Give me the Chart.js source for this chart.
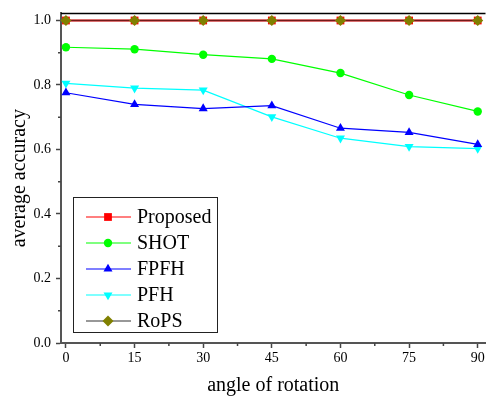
<!DOCTYPE html>
<html>
<head>
<meta charset="utf-8">
<script src="https://cdn.jsdelivr.net/npm/chart.js@4/dist/chart.umd.min.js"></script>
<style>
  html, body { margin: 0; padding: 0; background: #fff; overflow: hidden; }
  #wrap { width: 491px; height: 396px; position: relative; }
</style>
</head>
<body>
<div id="wrap"><canvas id="accChart"></canvas></div>
<script>
// angles (degrees)
const angles = [0, 15, 30, 45, 60, 75, 90];

// average accuracy per descriptor
const proposed = [1.0, 1.0, 1.0, 1.0, 1.0, 1.0, 1.0];
const shot = [0.917, 0.911, 0.894, 0.881, 0.837, 0.769, 0.718];
const fpfh = [0.776, 0.740, 0.727, 0.736, 0.666, 0.653, 0.616];
const pfh = [0.805, 0.790, 0.784, 0.701, 0.635, 0.609, 0.603];
const rops = [1.0, 1.0, 1.0, 1.0, 1.0, 1.0, 1.0];

const xTicks = [0, 15, 30, 45, 60, 75, 90];
const yTicks = [0.0, 0.2, 0.4, 0.6, 0.8, 1.0];
const xMinor = [7.5, 22.5, 37.5, 52.5, 67.5, 82.5];
const yMinor = [0.1, 0.3, 0.5, 0.7, 0.9];

const serif = "'Liberation Serif', 'Times New Roman', serif";

function pts(vals) {
    return vals.map((v, i) => ({ x: angles[i], y: v }));
}

const datasets = [
    { label: "Proposed", data: pts(proposed), borderColor: "#ff0000", backgroundColor: "#ff0000",
      pointStyle: "rect", pointRadius: 5.5, borderWidth: 2, order: 2 },
    { label: "SHOT", data: pts(shot), borderColor: "#00ff00", backgroundColor: "#00ff00",
      pointStyle: "circle", pointRadius: 4.2, borderWidth: 1.2, order: 1 },
    { label: "FPFH", data: pts(fpfh), borderColor: "#0000ff", backgroundColor: "#0000ff",
      pointStyle: "triangle", pointRadius: 5.2, borderWidth: 1.2, order: 1 },
    { label: "PFH", data: pts(pfh), borderColor: "#00ffff", backgroundColor: "#00ffff",
      pointStyle: "triangle", pointRotation: 180, pointRadius: 5.2, borderWidth: 1.2, order: 1 },
    { label: "RoPS", data: pts(rops), borderColor: "rgba(40,40,40,0.65)", backgroundColor: "#808000",
      pointStyle: "rectRot", pointRadius: 5.5, borderWidth: 1.5, order: 0 }
];
datasets.forEach(d => {
    d.pointBorderWidth = 0;
    d.pointBackgroundColor = d.backgroundColor;
    d.tension = 0;
});

// minor ticks, top frame line and the boxed legend
const extras = {
    id: "extras",
    afterDraw(chart) {
        const ctx = chart.ctx;
        const xs = chart.scales.x, ys = chart.scales.y;
        const a = chart.chartArea;
        ctx.save();
        ctx.strokeStyle = "#444";
        ctx.lineWidth = 1.5;
        ctx.beginPath();
        xMinor.forEach(v => {
            const px = xs.getPixelForValue(v);
            ctx.moveTo(px, a.bottom);
            ctx.lineTo(px, a.bottom + 3);
        });
        yMinor.forEach(v => {
            const py = ys.getPixelForValue(v);
            ctx.moveTo(a.left, py);
            ctx.lineTo(a.left - 3, py);
        });
        ctx.stroke();

        // top frame
        ctx.strokeStyle = "#000";
        ctx.lineWidth = 1.5;
        ctx.beginPath();
        ctx.moveTo(a.left, a.top);
        ctx.lineTo(a.right, a.top);
        ctx.stroke();

        // legend
        const lx = 73.5, ly = 197.5, lw = 144, lh = 135;
        ctx.fillStyle = "#fff";
        ctx.fillRect(lx, ly, lw, lh);
        ctx.strokeStyle = "#222";
        ctx.lineWidth = 1;
        ctx.strokeRect(lx, ly, lw, lh);
        ctx.font = "20px " + serif;
        ctx.textBaseline = "middle";
        ctx.textAlign = "left";
        const legendLine = ["#ff0000", "#00ff00", "#0000ff", "#00ffff", "#333333"];
        datasets.forEach((d, i) => {
            const cy = 217 + i * 26;
            ctx.strokeStyle = legendLine[i];
            ctx.lineWidth = 1.2;
            ctx.beginPath();
            ctx.moveTo(86, cy);
            ctx.lineTo(131, cy);
            ctx.stroke();
            ctx.fillStyle = d.backgroundColor;
            Chart.helpers.drawPoint(ctx, {
                pointStyle: d.pointStyle,
                rotation: d.pointRotation || 0,
                radius: d.pointRadius,
                borderWidth: 0
            }, 108, cy);
            ctx.fillStyle = "#000";
            ctx.fillText(d.label, 137, cy + 1);
        });
        ctx.restore();
    }
};

new Chart(document.getElementById("accChart"), {
    type: "line",
    data: { datasets: datasets },
    options: {
        responsive: true,
        maintainAspectRatio: false,
        animation: false,
        clip: false,
        layout: { padding: { top: 13, right: 0, left: 0, bottom: 0 } },
        plugins: { legend: { display: false }, tooltip: { enabled: false } },
        scales: {
            x: {
                type: "linear",
                min: -1.08,
                max: 91.7,
                afterBuildTicks: s => { s.ticks = xTicks.map(v => ({ value: v })); },
                afterFit: s => { s.height = 53; },
                ticks: {
                    color: "#000",
                    padding: 2,
                    autoSkip: false,
                    maxRotation: 0,
                    font: { family: serif, size: 14 },
                    callback: v => String(v)
                },
                grid: { display: true, drawOnChartArea: false, drawTicks: true, tickLength: 5,
                        tickColor: "#444", tickWidth: 1.5 },
                border: { display: true, color: "#555", width: 2 },
                title: {
                    display: true,
                    text: "angle of rotation",
                    color: "#000",
                    font: { family: serif, size: 20, lineHeight: 1 },
                    padding: { top: 0, bottom: 0 }
                }
            },
            y: {
                min: 0,
                max: 1.022,
                afterBuildTicks: s => { s.ticks = yTicks.map(v => ({ value: v })); },
                afterFit: s => { s.width = 61; },
                ticks: {
                    color: "#000",
                    padding: 5,
                    autoSkip: false,
                    font: { family: serif, size: 14 },
                    callback: v => v.toFixed(1)
                },
                grid: { display: true, drawOnChartArea: false, drawTicks: true, tickLength: 5,
                        tickColor: "#444", tickWidth: 1.5 },
                border: { display: true, color: "#555", width: 2 },
                title: {
                    display: true,
                    text: "average accuracy",
                    color: "#000",
                    font: { family: serif, size: 20, lineHeight: 1 },
                    padding: { top: 10, bottom: 0 }
                }
            }
        }
    },
    plugins: [extras]
});
</script>
</body>
</html>
